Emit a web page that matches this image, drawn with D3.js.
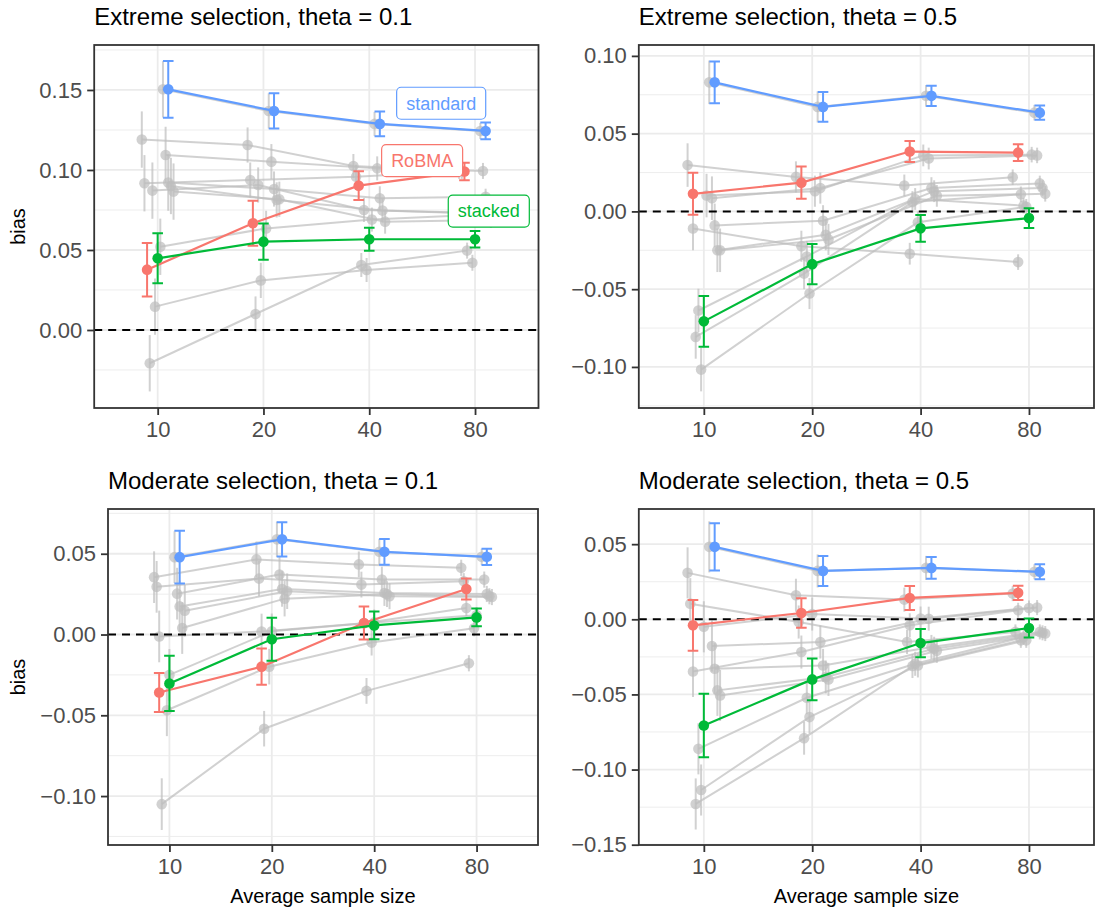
<!DOCTYPE html>
<html>
<head>
<meta charset="utf-8">
<style>
  body { margin: 0; background: #fff; }
  svg text { font-family: "Liberation Sans", Arial, Helvetica, sans-serif; }
</style>
</head>
<body>
<div id="container"></div>
<script src="https://cdn.jsdelivr.net/npm/d3@7"></script>
<script>
// ---- data ----
const sampleSizes = ["10", "20", "40", "80"];
const panelTitles = [
  "Extreme selection, theta = 0.1",
  "Extreme selection, theta = 0.5",
  "Moderate selection, theta = 0.1",
  "Moderate selection, theta = 0.5"
];
const yLimits = [[-0.04875, 0.1781], [-0.1264, 0.107], [-0.1303, 0.0777], [-0.1502, 0.0734]];
const yBreaks = [
  [0, 0.05, 0.10, 0.15],
  [-0.10, -0.05, 0, 0.05, 0.10],
  [-0.10, -0.05, 0, 0.05],
  [-0.15, -0.10, -0.05, 0, 0.05]
];

// highlighted methods: mean bias and MCSE per panel, per sample size
const standardBias = [
  [0.1504, 0.1369, 0.1288, 0.1244],
  [0.0830, 0.0672, 0.0743, 0.0635],
  [0.0479, 0.0589, 0.0512, 0.0481],
  [0.0482, 0.0322, 0.0342, 0.0316]
];
const standardSE = [
  [0.0177, 0.0110, 0.0078, 0.0052],
  [0.0134, 0.0095, 0.0065, 0.0046],
  [0.0163, 0.0106, 0.0080, 0.0050],
  [0.0158, 0.0100, 0.0072, 0.0050]
];
const robmaBias = [
  [0.0377, 0.0667, 0.0902, 0.0990],
  [0.0113, 0.0185, 0.0385, 0.0378],
  [-0.0359, -0.0199, 0.0071, 0.0282],
  [-0.0040, 0.0042, 0.0142, 0.0176]
];
const robmaSE = [
  [0.0167, 0.0140, 0.0090, 0.0055],
  [0.0135, 0.0103, 0.0067, 0.0054],
  [0.0121, 0.0112, 0.0102, 0.0065],
  [0.0169, 0.0098, 0.0080, 0.0048]
];
const stackedBias = [
  [0.0448, 0.0552, 0.0567, 0.0567],
  [-0.0707, -0.0339, -0.0109, -0.0043],
  [-0.0303, -0.0029, 0.0056, 0.0106],
  [-0.0707, -0.0400, -0.0158, -0.0058]
];
const stackedSE = [
  [0.0156, 0.0113, 0.0072, 0.0052],
  [0.0163, 0.0129, 0.0086, 0.0063],
  [0.0171, 0.0133, 0.0086, 0.0055],
  [0.0211, 0.0139, 0.0094, 0.0063]
];

// the other (grey) methods, per panel: dodge slot and bias per sample size
const otherSlot = [
  [0, 1, 3, 4, 5, 7, 8, 9, 10, 11, 12],
  [0, 2, 3, 4, 5, 7, 8, 9, 10, 11, 12],
  [0, 1, 2, 3, 5, 6, 8, 9, 10, 11, 12],
  [0, 1, 2, 3, 4, 5, 6, 8, 9, 10, 11, 12]
];
const otherBias = [
  [
    [0.1190, 0.1156, 0.1025, 0.0994],
    [0.0917, 0.0937, 0.0958, 0.0994],
    [-0.0208, 0.0100, 0.0406, 0.0496],
    [0.0871, 0.0906, 0.0750, 0.0729],
    [0.0146, 0.0310, 0.0375, 0.0420],
    [0.0520, 0.0635, 0.0690, 0.0720],
    [0.1504, 0.1369, 0.1288, 0.1244],
    [0.1094, 0.1052, 0.1010, 0.0994],
    [0.0921, 0.0881, 0.0823, 0.0833],
    [0.0900, 0.0813, 0.0746, 0.0729],
    [0.0865, 0.0817, 0.0677, 0.0688]
  ],
  [
    [0.0298, 0.0222, 0.0167, 0.0220],
    [-0.0110, -0.0224, -0.0272, -0.0326],
    [-0.0807, -0.0400, 0.0060, 0.0110],
    [-0.0637, -0.0290, 0.0080, 0.0037],
    [-0.1017, -0.0528, -0.0070, 0.0030],
    [0.0102, 0.0130, 0.0360, 0.0365],
    [0.0830, 0.0672, 0.0743, 0.0635],
    [0.0085, 0.0150, 0.0340, 0.0360],
    [-0.0090, -0.0060, 0.0150, 0.0180],
    [-0.0250, -0.0150, 0.0130, 0.0150],
    [-0.0250, -0.0180, 0.0100, 0.0113]
  ],
  [
    [0.0355, 0.0465, 0.0434, 0.0413],
    [0.0295, 0.0346, 0.0309, 0.0330],
    [-0.0012, 0.0019, 0.0070, 0.0164],
    [-0.1050, -0.0583, -0.0349, -0.0178],
    [-0.0469, -0.0199, -0.0050, 0.0039],
    [-0.0250, 0.0020, 0.0075, 0.0120],
    [0.0479, 0.0589, 0.0512, 0.0481],
    [0.0253, 0.0371, 0.0340, 0.0340],
    [0.0174, 0.0282, 0.0257, 0.0251],
    [0.0040, 0.0222, 0.0250, 0.0237],
    [0.0147, 0.0268, 0.0237, 0.0232]
  ],
  [
    [0.0309, 0.0160, 0.0131, 0.0171],
    [0.0104, -0.0018, -0.0151, -0.0084],
    [-0.0347, -0.0218, -0.0040, 0.0060],
    [-0.1229, -0.0791, -0.0311, -0.0140],
    [-0.0862, -0.0522, -0.0296, -0.0118],
    [-0.1136, -0.0651, -0.0307, -0.0140],
    [-0.0050, 0.0035, 0.0005, 0.0075],
    [0.0482, 0.0322, 0.0342, 0.0316],
    [-0.0178, -0.0151, 0.0004, 0.0078],
    [-0.0329, -0.0307, -0.0184, -0.0084],
    [-0.0473, -0.0384, -0.0196, -0.0090],
    [-0.0507, -0.0400, -0.0210, -0.0095]
  ]
];
const otherSE = [
  [0.0176, 0.0110, 0.0075, 0.0050],
  [0.0140, 0.0100, 0.0070, 0.0050],
  [0.0160, 0.0110, 0.0080, 0.0050],
  [0.0170, 0.0110, 0.0080, 0.0050]
];

// method labels in the first panel (x in category units, 1 = "10")
const labelNames = ["standard", "RoBMA", "stacked"];
const labelX = [3.68, 3.50, 4.13];
const labelY = [0.1417, 0.1058, 0.0743];

// ---- styling / layout ----
const colors = { standard: "#619CFF", RoBMA: "#F8766D", stacked: "#00BA38" };
const slots = { standard: 10, RoBMA: 2, stacked: 6 };
const boxes = [
  { left: 94.2, top: 45, right: 538.5, bottom: 408 },
  { left: 638.8, top: 45, right: 1094, bottom: 408 },
  { left: 108, top: 509, right: 538, bottom: 845 },
  { left: 638.8, top: 509, right: 1094, bottom: 845 }
];

const svg = d3.select("#container")
  .append("svg")
  .attr("width", 1097)
  .attr("height", 909)
  .style("display", "block");

svg.append("rect").attr("width", 1097).attr("height", 909).attr("fill", "#fff");

const dodge = d3.scaleLinear().domain([0, 12]).range([-0.15, 0.15]);
const fmt = d3.format(".2f");

function drawPanel(i) {
  const box = boxes[i];
  const g = svg.append("g");

  const x = d3.scalePoint().domain(sampleSizes).range([box.left, box.right]).padding(0.6);
  const y = d3.scaleLinear().domain(yLimits[i]).range([box.bottom, box.top]);
  const px = (k, slot) => x(sampleSizes[k]) + dodge(slot) * x.step();

  // grid
  const breaks = yBreaks[i];
  const minor = [breaks[0] - 0.025].concat(breaks.map(b => b + 0.025))
    .filter(v => v > yLimits[i][0] && v < yLimits[i][1]);
  g.selectAll(".minor").data(minor).join("line")
    .attr("x1", box.left).attr("x2", box.right)
    .attr("y1", d => y(d)).attr("y2", d => y(d))
    .attr("stroke", "#EBEBEB").attr("stroke-width", 0.9);
  g.selectAll(".majory").data(breaks).join("line")
    .attr("x1", box.left).attr("x2", box.right)
    .attr("y1", d => y(d)).attr("y2", d => y(d))
    .attr("stroke", "#EBEBEB").attr("stroke-width", 1.8);
  g.selectAll(".majorx").data(sampleSizes).join("line")
    .attr("x1", d => x(d)).attr("x2", d => x(d))
    .attr("y1", box.top).attr("y2", box.bottom)
    .attr("stroke", "#EBEBEB").attr("stroke-width", 1.8);

  // grey methods
  const grey = g.append("g");
  otherBias[i].forEach((vals, s) => {
    const slot = otherSlot[i][s];
    const pts = vals.map((v, k) => [px(k, slot), y(v), k]);
    grey.append("path")
      .attr("d", d3.line()(pts.map(p => [p[0], p[1]])))
      .attr("fill", "none")
      .attr("stroke", "#BEBEBE").attr("stroke-opacity", 0.7)
      .attr("stroke-width", 2);
    pts.forEach((p, k) => {
      const se = otherSE[i][k];
      grey.append("line")
        .attr("x1", p[0]).attr("x2", p[0])
        .attr("y1", y(vals[k] - se)).attr("y2", y(vals[k] + se))
        .attr("stroke", "#BEBEBE").attr("stroke-opacity", 0.7)
        .attr("stroke-width", 2);
      grey.append("circle")
        .attr("cx", p[0]).attr("cy", p[1]).attr("r", 5.3)
        .attr("fill", "#BEBEBE").attr("fill-opacity", 0.7);
    });
  });

  // zero line
  g.append("line")
    .attr("x1", box.left).attr("x2", box.right)
    .attr("y1", y(0)).attr("y2", y(0))
    .attr("stroke", "#000").attr("stroke-width", 2)
    .attr("stroke-dasharray", "8,6");

  // highlighted methods
  const series = [
    { name: "standard", bias: standardBias[i], se: standardSE[i] },
    { name: "RoBMA", bias: robmaBias[i], se: robmaSE[i] },
    { name: "stacked", bias: stackedBias[i], se: stackedSE[i] }
  ];
  series.forEach(sr => {
    const col = colors[sr.name];
    const slot = slots[sr.name];
    const sg = g.append("g");
    sg.append("path")
      .attr("d", d3.line()(sr.bias.map((v, k) => [px(k, slot), y(v)])))
      .attr("fill", "none").attr("stroke", col).attr("stroke-width", 2.2);
    sr.bias.forEach((v, k) => {
      const cx = px(k, slot);
      const lo = y(v - sr.se[k]), hi = y(v + sr.se[k]);
      sg.append("path")
        .attr("d", `M${cx - 5.3},${hi}H${cx + 5.3}M${cx},${hi}V${lo}M${cx - 5.3},${lo}H${cx + 5.3}`)
        .attr("fill", "none").attr("stroke", col).attr("stroke-width", 2);
      sg.append("circle")
        .attr("cx", cx).attr("cy", y(v)).attr("r", 5.3).attr("fill", col);
    });
  });

  // labels (first panel only)
  if (i === 0) {
    labelNames.forEach((nm, j) => {
      const cx = x(sampleSizes[0]) + (labelX[j] - 1) * x.step();
      const cy = y(labelY[j]);
      const lg = g.append("g");
      const t = lg.append("text")
        .attr("x", cx).attr("y", cy)
        .attr("dy", "0.35em")
        .attr("text-anchor", "middle")
        .attr("font-size", 18)
        .attr("fill", colors[nm])
        .text(nm);
      const w = t.node().getComputedTextLength() + 19;
      lg.insert("rect", "text")
        .attr("x", cx - w / 2).attr("y", cy - 16)
        .attr("width", w).attr("height", 32)
        .attr("rx", 4.5)
        .attr("fill", "#fff")
        .attr("stroke", colors[nm]).attr("stroke-width", 1.2);
    });
  }

  // border
  g.append("rect")
    .attr("x", box.left).attr("y", box.top)
    .attr("width", box.right - box.left).attr("height", box.bottom - box.top)
    .attr("fill", "none").attr("stroke", "#333").attr("stroke-width", 1.8);

  // axes
  const ya = g.append("g")
    .attr("transform", `translate(${box.left},0)`)
    .call(d3.axisLeft(y).tickValues(breaks).tickFormat(fmt).tickSize(7).tickPadding(5));
  const xa = g.append("g")
    .attr("transform", `translate(0,${box.bottom})`)
    .call(d3.axisBottom(x).tickSize(7).tickPadding(6.5));
  [ya, xa].forEach(a => {
    a.select(".domain").remove();
    a.selectAll(".tick line").attr("stroke", "#333").attr("stroke-width", 1.8);
    a.selectAll(".tick text").attr("font-size", 22).attr("fill", "#4D4D4D")
      .attr("font-family", "Liberation Sans, Arial, sans-serif");
  });

  // title
  g.append("text")
    .attr("x", box.left).attr("y", box.top - 20)
    .attr("font-size", 24).attr("fill", "#000")
    .text(panelTitles[i]);

  // axis titles
  if (i % 2 === 0) {
    g.append("text")
      .attr("transform", `translate(25,${(box.top + box.bottom) / 2}) rotate(-90)`)
      .attr("text-anchor", "middle")
      .attr("font-size", 20).attr("fill", "#000")
      .text("bias");
  }
  if (i >= 2) {
    g.append("text")
      .attr("x", (box.left + box.right) / 2).attr("y", 903)
      .attr("text-anchor", "middle")
      .attr("font-size", 20).attr("fill", "#000")
      .text("Average sample size");
  }
}

panelTitles.forEach((_, i) => drawPanel(i));
</script>
</body>
</html>
